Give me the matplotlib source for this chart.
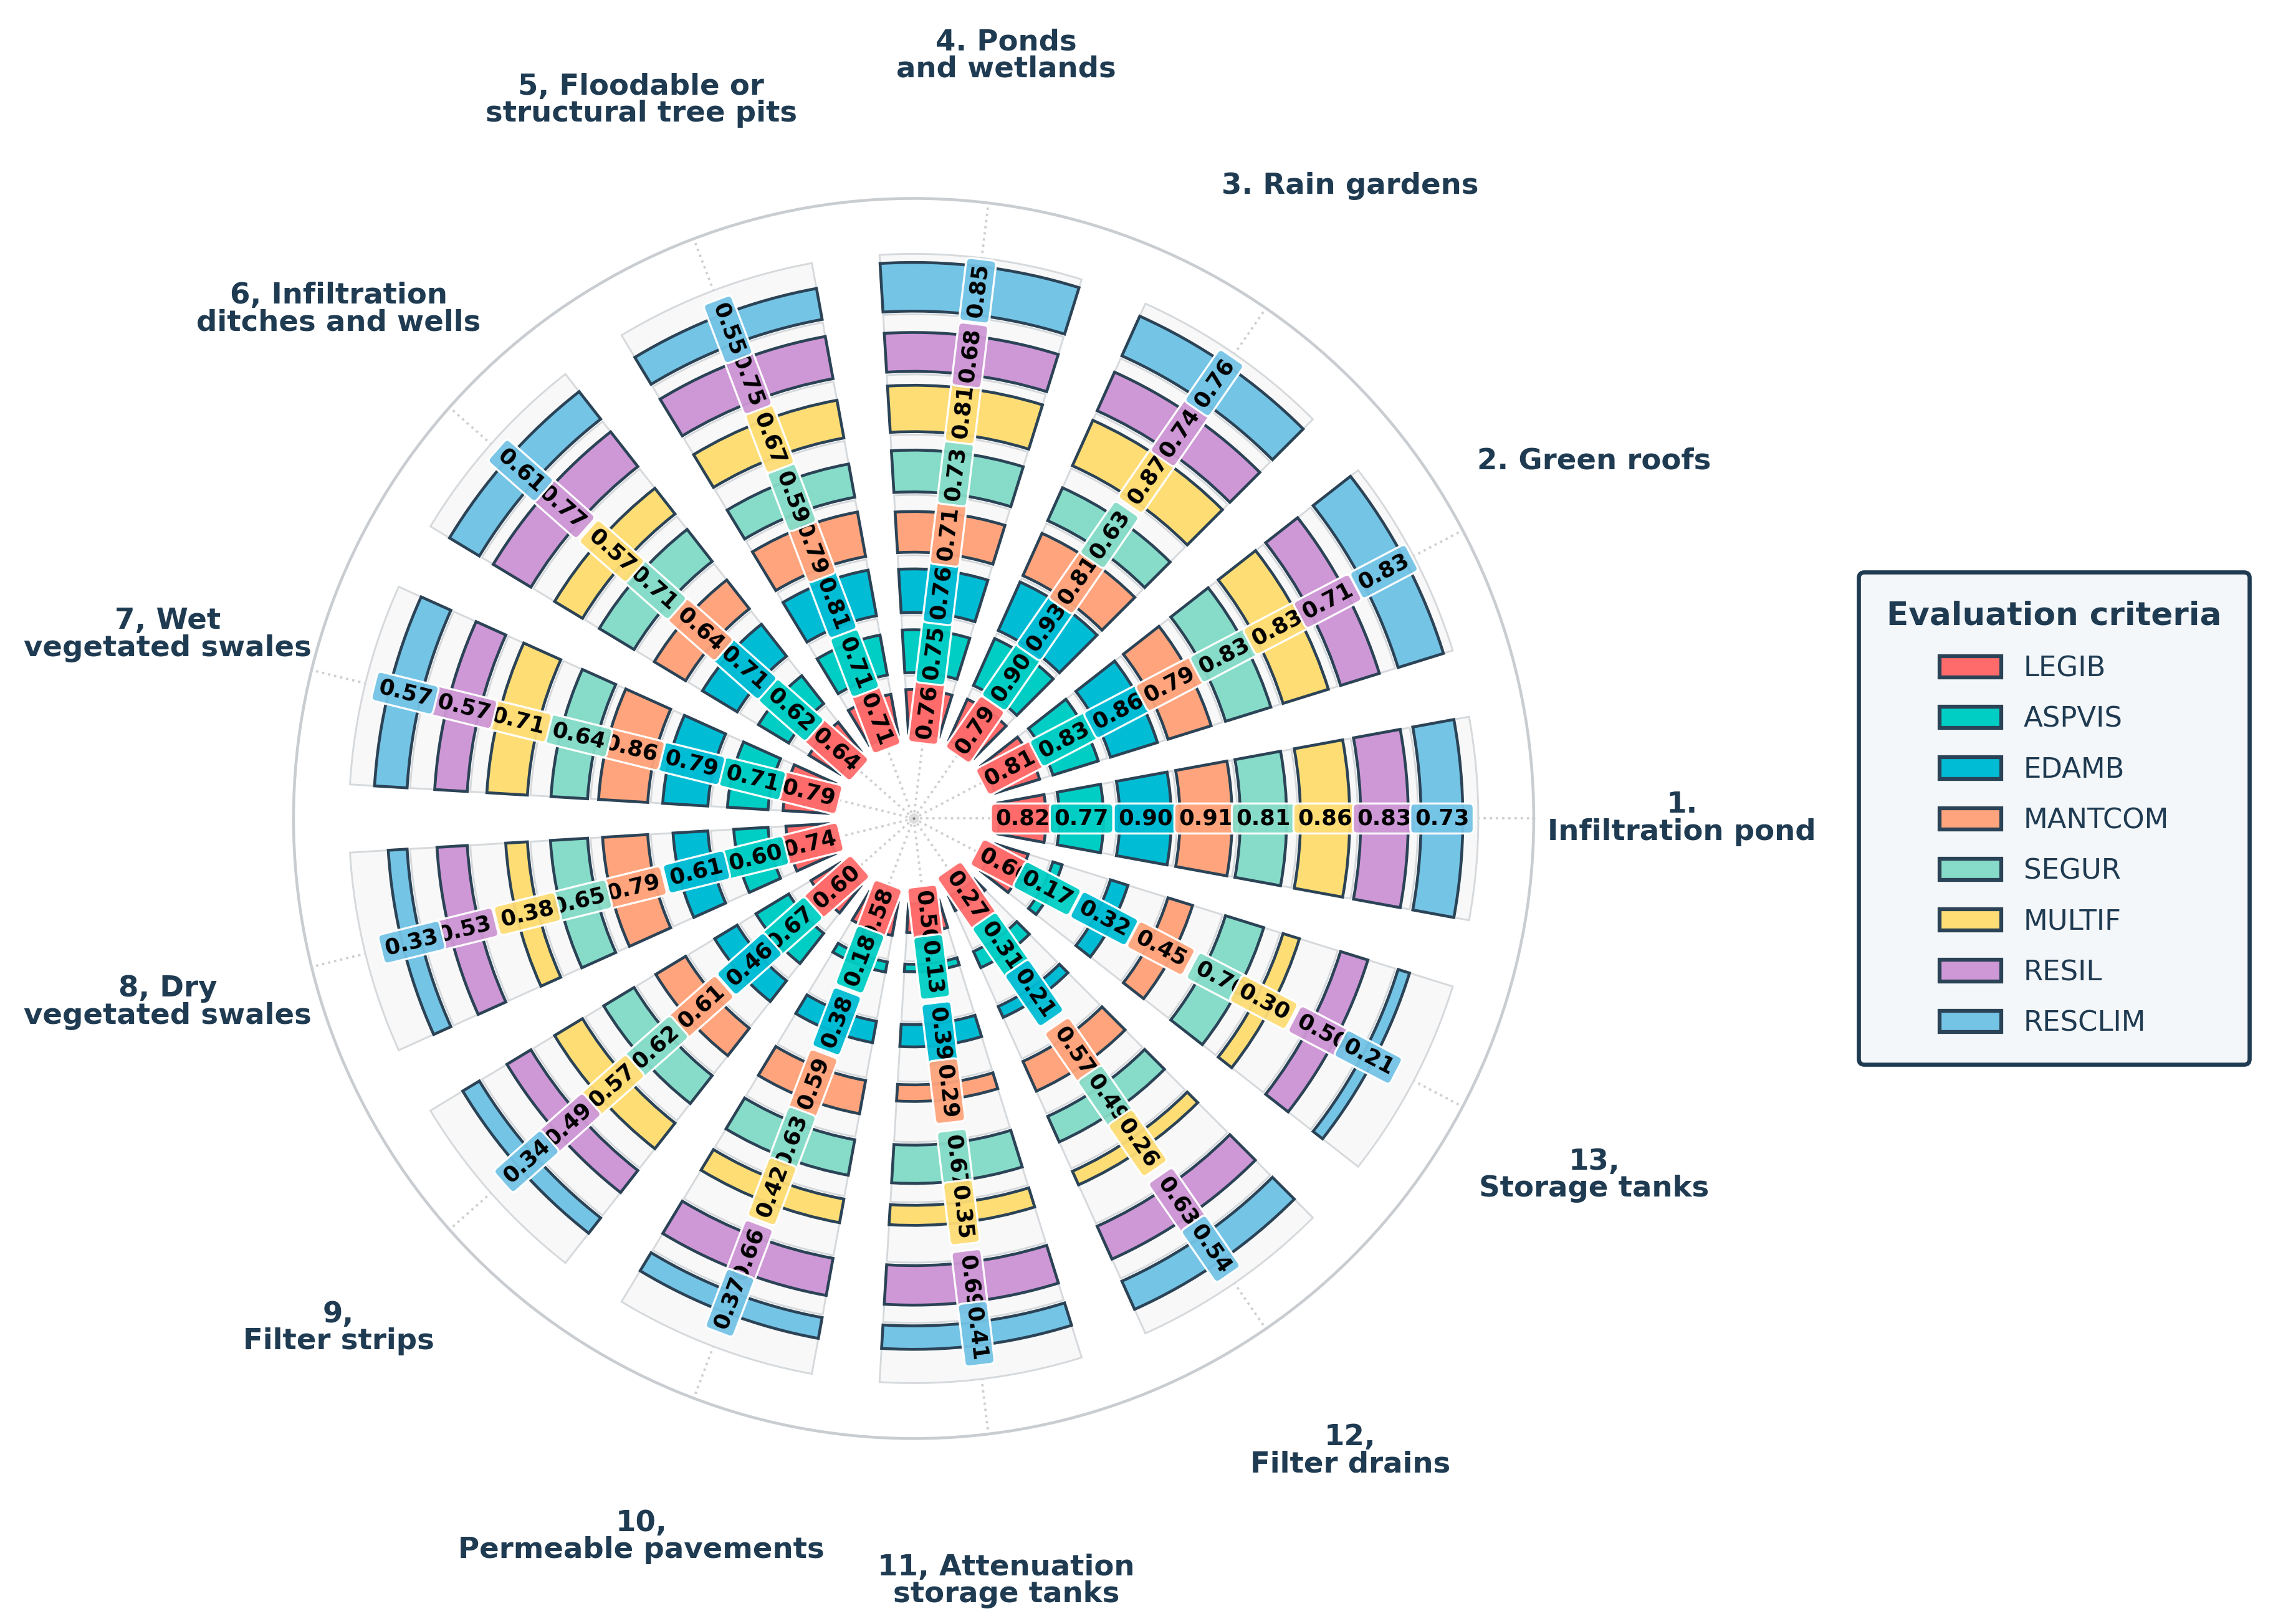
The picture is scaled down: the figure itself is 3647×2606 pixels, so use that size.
import numpy as np
import matplotlib

matplotlib.use("Agg")
import matplotlib.pyplot as plt
from matplotlib.patches import Patch

# categories (SuDS techniques), counter-clockwise from east
categories = [
    "1.\nInfiltration pond",
    "2. Green roofs",
    "3. Rain gardens",
    "4. Ponds\nand wetlands",
    "5, Floodable or\nstructural tree pits",
    "6, Infiltration\nditches and wells",
    "7, Wet\nvegetated swales",
    "8, Dry\nvegetated swales",
    "9,\nFilter strips",
    "10,\nPermeable pavements",
    "11, Attenuation\nstorage tanks",
    "12,\nFilter drains",
    "13,\nStorage tanks",
]

criteria = ["LEGIB", "ASPVIS", "EDAMB", "MANTCOM", "SEGUR", "MULTIF", "RESIL", "RESCLIM"]
colors = ["#FF6B6B", "#00CEC4", "#00BCD4", "#FFA47C", "#86DCC8", "#FFDD75", "#CE97D5", "#74C4E6"]

# one list per criterion, in category order 1..13
legib = [0.82, 0.81, 0.79, 0.76, 0.71, 0.64, 0.79, 0.74, 0.60, 0.58, 0.50, 0.27, 0.60]
aspvis = [0.77, 0.83, 0.90, 0.75, 0.71, 0.62, 0.71, 0.60, 0.67, 0.18, 0.13, 0.31, 0.17]
edamb = [0.90, 0.86, 0.93, 0.76, 0.81, 0.71, 0.79, 0.61, 0.46, 0.38, 0.39, 0.21, 0.32]
mantcom = [0.91, 0.79, 0.81, 0.71, 0.79, 0.64, 0.86, 0.79, 0.61, 0.59, 0.29, 0.57, 0.45]
segur = [0.81, 0.83, 0.63, 0.73, 0.59, 0.71, 0.64, 0.65, 0.62, 0.63, 0.67, 0.49, 0.70]
multif = [0.86, 0.83, 0.87, 0.81, 0.67, 0.57, 0.71, 0.38, 0.57, 0.42, 0.35, 0.26, 0.30]
resil = [0.83, 0.71, 0.74, 0.68, 0.75, 0.77, 0.57, 0.53, 0.49, 0.66, 0.69, 0.63, 0.50]
resclim = [0.73, 0.83, 0.76, 0.85, 0.55, 0.61, 0.57, 0.33, 0.34, 0.37, 0.41, 0.54, 0.21]

series = [legib, aspvis, edamb, mantcom, segur, multif, resil, resclim]

NAVY = "#1f3b52"
EDGE = "#2b4356"

n = len(categories)
sector = 2 * np.pi / n
angles = np.arange(n) * sector
width = 0.75 * sector
r0 = 1.42      # inner radius of first ring
ring_h = 0.95  # full-score ring thickness

fig = plt.figure(figsize=(3647 / 300, 2606 / 300), dpi=300)
ax = fig.add_axes([0.1291, 0.1142, 0.5457, 0.7636], projection="polar")
ax.set_ylim(0, 10.29)
ax.set_axisbelow(True)

for j, (name, vals, col) in enumerate(zip(criteria, series, colors)):
    bottom = r0 + j
    ax.bar(angles, ring_h, width=width, bottom=bottom, color="#f8f8f8",
           edgecolor="#d6d9dc", linewidth=0.7, zorder=1)
    ax.bar(angles, np.array(vals) * ring_h, width=width, bottom=bottom, color=col,
           edgecolor=EDGE, linewidth=1.1, zorder=2)
    for th, v in zip(angles, vals):
        deg = np.degrees(th)
        rot = deg - 180 if 90 < deg < 270 else (deg - 360 if deg >= 270 else deg)
        ax.text(th, bottom + v * ring_h / 2, f"{v:.2f}", rotation=rot,
                rotation_mode="anchor", ha="center", va="center",
                fontsize=8.5, fontweight="bold", color="black", zorder=3 + j * 0.1,
                bbox=dict(boxstyle="round,pad=0.2", facecolor=col, edgecolor="white",
                          linewidth=0.8, alpha=0.95))

for th, lab in zip(angles, categories):
    ax.text(th, 12.75, lab, ha="center", va="center", fontsize=11.2,
            fontweight="bold", color=NAVY, linespacing=0.95)

ax.plot([0], [0], "o", ms=2.5, mfc="#777777", mec="#dddddd", mew=1.5, zorder=1)

ax.set_xticks(angles)
ax.set_xticklabels([])
ax.set_yticks([])
ax.xaxis.grid(True, color="#cfcfcf", linestyle=":", linewidth=0.9)
ax.spines["polar"].set_color("#c9cdd1")
ax.spines["polar"].set_linewidth(1.1)

handles = [Patch(facecolor=c, edgecolor=EDGE, linewidth=1.5, label=n_) for c, n_ in zip(colors, criteria)]
leg = fig.legend(handles=handles, title="Evaluation criteria", loc="center left",
                 bbox_to_anchor=(0.8115, 0.496), fontsize=10.8,
                 title_fontproperties={"weight": "bold", "size": 12.4},
                 frameon=True, fancybox=True, handlelength=2.2, handleheight=0.8,
                 handletextpad=0.8, labelspacing=0.85, borderpad=1.0, framealpha=1)
frame = leg.get_frame()
frame.set_facecolor("#f4f7f9")
frame.set_edgecolor(NAVY)
frame.set_linewidth(1.6)
leg.get_title().set_color(NAVY)
for t in leg.get_texts():
    t.set_color(NAVY)

fig.savefig("out.png", dpi=300)
